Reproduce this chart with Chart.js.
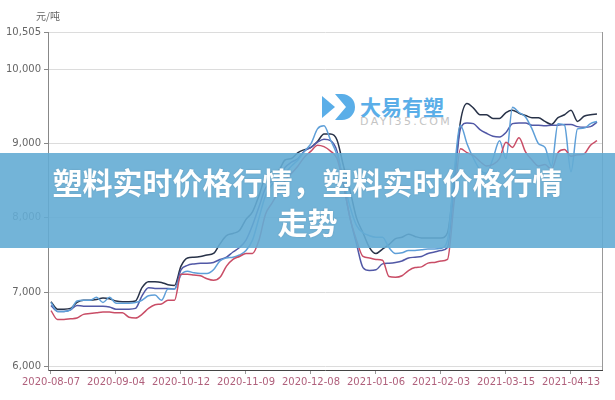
<!DOCTYPE html>
<html>
<head>
<meta charset="utf-8">
<script src="https://cdn.jsdelivr.net/npm/chart.js"></script>
<style>
	html, body { margin: 0; padding: 0; background: #fff; }
	#wrap { position: relative; width: 615px; height: 400px; overflow: hidden; font-family: "Noto Sans CJK SC", "Noto Sans", sans-serif; }
	#chart { position: absolute; left: 0; top: 0; z-index: 2; }
	#mark { position: absolute; left: 322px; top: 93px; z-index: 1; }
	#mark .name { position: absolute; left: 38px; top: -2px; font-size: 21px; font-weight: bold; color: #5aaee8; white-space: nowrap; letter-spacing: 0px; }
	#mark .site { position: absolute; left: 38px; top: 22px; font-size: 11px; color: #c4c4c4; white-space: nowrap; letter-spacing: 2.4px; font-family: "DejaVu Sans", sans-serif; }
	#banner { position: absolute; left: 0; top: 153px; width: 615px; height: 95px; background: rgba(100, 172, 212, 0.9); z-index: 3; }
	#banner div { width: 525px; margin: 8px auto 0; text-align: center; color: #fff; font-size: 30px; font-weight: bold; line-height: 40px; text-shadow: 0 0 2px rgba(0, 0, 0, 0.15); }
</style>
</head>
<body>
<div id="wrap">
	<div id="mark">
		<svg width="34" height="28" viewBox="0 0 34 28">
			<path d="M0 3 L13 14 L0 25 Z" fill="#5aaee8"/>
			<path d="M13 1 H20 A13 13 0 0 1 20 27 H13 L24 14 Z" fill="#5aaee8"/>
		</svg>
		<span class="name">大易有塑</span>
		<span class="site">DAYI35.COM</span>
	</div>
	<canvas id="chart" width="615" height="400"></canvas>
	<div id="banner"><div>塑料实时价格行情，塑料实时价格行情走势</div></div>
</div>
<script>
const unitLabel = '元/吨';
const tickDates = ['2020-08-07', '2020-09-04', '2020-10-12', '2020-11-09', '2020-12-08', '2021-01-06', '2021-02-03', '2021-03-15', '2021-04-13'];
const yTicks = [6000, 7000, 8000, 9000, 10000, 10505];

const navy = [
	6870, 6770, 6770, 6780, 6860, 6890, 6890, 6900, 6920, 6910,
	6880, 6870, 6870, 6880, 7060, 7140, 7140, 7130, 7100, 7090,
	7350, 7460, 7470, 7480, 7500, 7520, 7650, 7760, 7790, 7830,
	7980, 8080, 8300, 8560, 8620, 8640, 8780, 8800, 8880, 8920,
	8950, 9030, 9130, 9130, 9050, 8700, 8370, 8000, 7800, 7600,
	7520, 7580, 7640, 7720, 7740, 7780, 7750, 7730, 7730, 7730,
	7730, 7800, 8500, 9300, 9540, 9480, 9390, 9390, 9340, 9340,
	9420, 9450, 9410, 9380, 9350, 9350, 9300, 9260, 9350, 9390,
	9450, 9300, 9370, 9390, 9400
];
const purple = [
	6820, 6740, 6740, 6760, 6820, 6810, 6810, 6810, 6810, 6800,
	6770, 6770, 6770, 6780, 6950, 7060, 7050, 7050, 7050, 7040,
	7300, 7360, 7380, 7390, 7390, 7400, 7440, 7470, 7540, 7600,
	7700, 7900, 8150, 8400, 8500, 8540, 8680, 8750, 8800, 8900,
	8950, 9020, 9060, 9040, 8900, 8450, 8000, 7650, 7330, 7290,
	7300, 7380, 7390, 7400, 7420, 7460, 7470, 7480, 7520, 7540,
	7560, 7600, 8400, 9200, 9280, 9270, 9190, 9140, 9100, 9090,
	9150, 9270, 9280, 9280, 9250, 9250, 9240, 9250, 9250, 9260,
	9260, 9230, 9220, 9230, 9290
];
const lightBlue = [
	6860, 6740, 6740, 6760, 6880, 6890, 6890, 6930, 6860, 6930,
	6850, 6850, 6850, 6860, 6890, 6950, 6960, 6890, 7040, 7040,
	7230, 7280, 7260, 7250, 7250, 7300, 7420, 7460, 7470, 7500,
	7560, 7700, 8000, 8300, 8450, 8500, 8600, 8700, 8780, 8900,
	9000, 9200, 9240, 9050, 8850, 8500, 8150, 7900, 7800, 7760,
	7740, 7740, 7600, 7520, 7530, 7560, 7560, 7570, 7580, 7580,
	7590, 7700, 8600, 9250, 9000, 8800, 8650, 8600, 8800, 9040,
	8800, 9490, 9420, 9360, 9200, 9000, 8950, 8700, 9270, 9250,
	8620, 9200, 9210, 9270, 9300
];
const red = [
	6750, 6630, 6630, 6640, 6650, 6700, 6710, 6720, 6730, 6730,
	6720, 6720, 6660, 6650, 6700, 6780, 6830, 6840, 6890, 6890,
	7240, 7240, 7230, 7220, 7180, 7160, 7200, 7350, 7440, 7480,
	7520, 7520, 7700, 8050, 8200, 8350, 8500, 8600, 8700, 8820,
	8900, 8980, 8960, 8900, 8800, 8450, 8000, 7700, 7480, 7460,
	7440, 7430, 7210, 7200, 7220, 7290, 7330, 7340, 7390, 7400,
	7420, 7440, 8200, 8930, 8880, 8840, 8760, 8700, 8720, 8800,
	9020, 8950, 9080, 8890, 8780, 8700, 8720, 8650, 8880, 8920,
	8830, 8850, 8860, 8980, 9040
];

// one tick date every 10 points
const pointsPerTick = 10;

function toPoints(values) {
	return values.map((v, i) => ({ x: i, y: v }));
}

function lineSet(values, color) {
	return {
		data: toPoints(values),
		borderColor: color,
		backgroundColor: color,
		borderWidth: 1.5,
		pointRadius: 0,
		cubicInterpolationMode: 'monotone',
		fill: false
	};
}

const framePlugin = {
	id: 'frame',
	afterDraw(chart) {
		const ctx = chart.ctx;
		const area = chart.chartArea;
		ctx.save();
		ctx.strokeStyle = '#999';
		ctx.lineWidth = 1;
		ctx.beginPath();
		ctx.moveTo(area.right + 0.5, area.top);
		ctx.lineTo(area.right + 0.5, area.bottom);
		ctx.stroke();
		ctx.fillStyle = '#666';
		ctx.font = '10px "Noto Sans CJK SC", sans-serif';
		ctx.textAlign = 'center';
		ctx.textBaseline = 'middle';
		ctx.fillText(unitLabel, 48, 16);
		ctx.restore();
	}
};

const chartCanvas = document.getElementById('chart');
const lineChart = new Chart(chartCanvas, {
	type: 'line',
	data: {
		datasets: [
			lineSet(red, '#c94d66'),
			lineSet(lightBlue, '#5e9fd8'),
			lineSet(purple, '#5158a6'),
			lineSet(navy, '#283248')
		]
	},
	options: {
		responsive: false,
		animation: false,
		layout: {
			padding: { left: 0, right: 13, top: 32, bottom: 0 }
		},
		plugins: {
			legend: { display: false },
			tooltip: { enabled: false }
		},
		scales: {
			x: {
				type: 'linear',
				min: -0.46,
				max: 84.77,
				afterBuildTicks(scale) {
					scale.ticks = tickDates.map((d, i) => ({ value: i * pointsPerTick }));
				},
				afterFit(scale) {
					scale.height = 30;
				},
				ticks: {
					autoSkip: false,
					maxRotation: 0,
					color: '#b0607c',
					font: { size: 10, family: '"DejaVu Sans", sans-serif' },
					padding: 2,
					callback: (value) => tickDates[Math.round(value / pointsPerTick)]
				},
				grid: {
					drawOnChartArea: false,
					drawTicks: true,
					tickLength: 4,
					tickColor: '#999'
				},
				border: { color: '#444', width: 1 }
			},
			y: {
				min: 5950,
				max: 10505,
				afterBuildTicks(scale) {
					scale.ticks = yTicks.map(v => ({ value: v }));
				},
				afterFit(scale) {
					scale.width = 48;
				},
				ticks: {
					color: '#666',
					font: { size: 10, family: '"DejaVu Sans", sans-serif' },
					padding: 3,
					callback: (value) => value.toLocaleString('en-US')
				},
				grid: {
					color: '#dcdcdc',
					tickLength: 4,
					tickColor: '#888'
				},
				border: { color: '#888', width: 1 }
			}
		}
	},
	plugins: [framePlugin]
});
</script>
</body>
</html>
